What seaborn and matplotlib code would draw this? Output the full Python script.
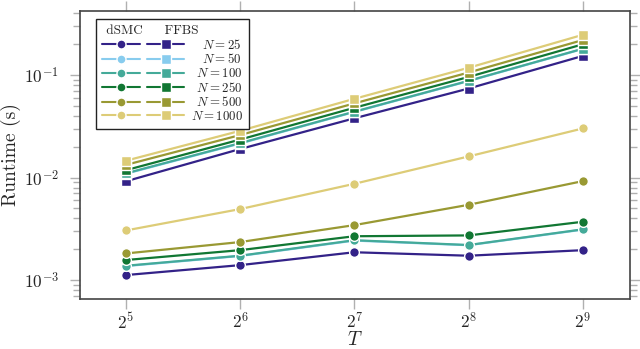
import matplotlib
matplotlib.use("Agg")
import matplotlib.pyplot as plt
from matplotlib.lines import Line2D
from matplotlib.legend_handler import HandlerTuple
from matplotlib.ticker import FixedLocator, FixedFormatter, LogLocator, NullFormatter
import numpy as np
import pandas as pd
import seaborn as sns

# horizon lengths T and particle counts N
T_vals = [32, 64, 128, 256, 512]
N_vals = [25, 50, 100, 250, 500, 1000]

# runtimes (s) (N=50 sits hidden under N=100)
dsmc = {
    25:   [1.12e-3, 1.40e-3, 1.87e-3, 1.73e-3, 1.96e-3],
    50:   [1.37e-3, 1.72e-3, 2.43e-3, 2.19e-3, 3.11e-3],
    100:  [1.38e-3, 1.73e-3, 2.45e-3, 2.20e-3, 3.13e-3],
    250:  [1.57e-3, 1.96e-3, 2.68e-3, 2.73e-3, 3.71e-3],
    500:  [1.82e-3, 2.35e-3, 3.44e-3, 5.43e-3, 9.25e-3],
    1000: [3.05e-3, 4.93e-3, 8.70e-3, 1.61e-2, 3.02e-2],
}
ffbs = {
    25:   [9.2e-3, 1.90e-2, 3.79e-2, 7.40e-2, 0.154],
    50:   [1.09e-2, 2.15e-2, 4.37e-2, 8.75e-2, 0.180],
    100:  [1.10e-2, 2.17e-2, 4.40e-2, 8.80e-2, 0.181],
    250:  [1.18e-2, 2.35e-2, 4.80e-2, 9.60e-2, 0.200],
    500:  [1.33e-2, 2.60e-2, 5.30e-2, 1.06e-1, 0.220],
    1000: [1.46e-2, 2.86e-2, 5.87e-2, 1.18e-1, 0.2475],
}
colors = ["#332288", "#88CCEE", "#44AA99", "#117733", "#999933", "#DDCC77"]

rows = []
for method, table in [("dSMC", dsmc), ("FFBS", ffbs)]:
    for n in N_vals:
        for t, v in zip(T_vals, table[n]):
            rows.append({"method": method, "N": n, "T": t, "runtime": v})
df = pd.DataFrame(rows)

sns.set_style("ticks")
plt.rcParams["font.family"] = ["cmr10", "DejaVu Serif"]
plt.rcParams["mathtext.fontset"] = "cm"
plt.rcParams["axes.formatter.use_mathtext"] = True

fig, ax = plt.subplots(figsize=(6.4, 3.49), dpi=100)
fig.subplots_adjust(left=0.125, right=0.984, top=0.969, bottom=0.143)

markers = {"dSMC": "o", "FFBS": "s"}
for method in ["dSMC", "FFBS"]:
    for n, c in zip(N_vals, colors):
        sub = df[(df.method == method) & (df.N == n)]
        sns.lineplot(data=sub, x="T", y="runtime", ax=ax, color=c,
                     marker=markers[method], markersize=7, markeredgecolor="white",
                     markeredgewidth=1.0, linewidth=1.6, legend=False)

ax.set_xscale("log", base=2)
ax.set_yscale("log")
ax.set_xlim(2 ** 4.6, 2 ** 9.41)
ax.set_ylim(6.53e-4, 0.424)

ax.xaxis.set_major_locator(FixedLocator(T_vals))
ax.xaxis.set_major_formatter(FixedFormatter([r"$2^{%d}$" % k for k in range(5, 10)]))
ax.xaxis.set_minor_locator(FixedLocator([]))
ax.yaxis.set_major_locator(FixedLocator([1e-3, 1e-2, 1e-1]))
ax.yaxis.set_major_formatter(FixedFormatter([r"$10^{-3}$", r"$10^{-2}$", r"$10^{-1}$"]))
ax.yaxis.set_minor_locator(LogLocator(base=10, subs=np.arange(2, 10), numticks=20))
ax.yaxis.set_minor_formatter(NullFormatter())

ax.tick_params(which="both", direction="out", color="#b0b0b0", top=True, right=True,
               labelsize=12.5, width=1.0)
ax.tick_params(which="major", length=7)
ax.tick_params(which="minor", length=5)
ax.tick_params(axis="y", pad=8)
ax.tick_params(axis="x", pad=1.5)
for s in ax.spines.values():
    s.set_color("#444444")
    s.set_linewidth(1.2)

ax.set_xlabel(r"$T$", fontsize=14)
ax.xaxis.set_label_coords(0.5, -0.11)
ax.set_ylabel("Runtime (s)", fontsize=14)
ax.yaxis.set_label_coords(-0.108, 0.5)

handles = []
for c in colors:
    h1 = Line2D([], [], color=c, marker="o", markersize=6.5, markeredgecolor="white",
                markeredgewidth=1.0, linewidth=1.5)
    h2 = Line2D([], [], color=c, marker="s", markersize=6.5, markeredgecolor="white",
                markeredgewidth=1.0, linewidth=1.5)
    handles.append((h1, h2))
pads = {25: r"\enspace\enspace", 50: r"\enspace\enspace", 100: r"\enspace",
        250: r"\enspace", 500: r"\enspace", 1000: ""}
labels = [r"$%sN = %d$" % (pads[n], n) for n in N_vals]
leg = ax.legend(handles, labels, handler_map={tuple: HandlerTuple(ndivide=None, pad=0.55)},
                loc="upper left", bbox_to_anchor=(0.029, 0.971), borderaxespad=0,
                handlelength=6.4, handletextpad=0.5, labelspacing=0.05, fontsize=9.3,
                title=" dSMC     FFBS", title_fontsize=9.5, alignment="left",
                borderpad=0.45, frameon=True, fancybox=False, edgecolor="#222222",
                framealpha=1)
leg.get_frame().set_linewidth(1.0)

plt.savefig("out.png", dpi=100)
